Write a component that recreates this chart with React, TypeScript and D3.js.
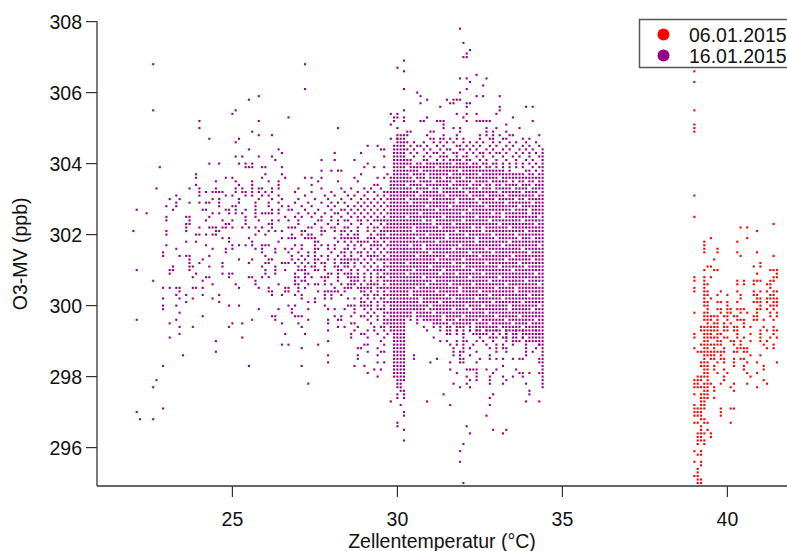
import React from "react";
import * as d3 from "d3";

const W = 787;
const H = 551;

const xTicks = [25, 30, 35, 40];
const yTicks = [296, 298, 300, 302, 304, 306, 308];
const seriesNames = ["06.01.2015", "16.01.2015"];
const seriesColors = ["#ff0000", "#990088"];
const xTitle = "Zellentemperatur (°C)";
const yTitle = "O3-MV (ppb)";

// 16.01.2015 — solid vertical runs of readings on the 0.1 grid: [temperature, lowest O3, highest O3]
const purpleRuns: [number, number, number][] = [
  [29.8, 299.3, 303.6], [29.9, 298.0, 304.5], [30.0, 297.8, 304.8], [30.1, 297.8, 304.7],
  [30.2, 297.9, 304.6], [30.3, 299.6, 304.0], [30.4, 299.5, 304.1], [30.5, 299.7, 303.9],
  [30.6, 299.5, 304.0], [30.7, 299.6, 304.0], [30.8, 299.4, 303.9], [30.9, 299.6, 304.1],
  [31.0, 299.5, 304.0], [31.1, 299.4, 304.0], [31.2, 299.5, 304.1], [31.3, 299.3, 304.0],
  [31.4, 299.5, 304.2], [31.5, 299.4, 304.0], [31.6, 299.3, 304.1], [31.7, 299.5, 303.9],
  [31.8, 299.3, 304.2], [31.9, 299.4, 304.1], [32.0, 299.2, 304.0], [32.1, 299.4, 304.2],
  [32.2, 299.3, 303.9], [32.3, 299.5, 304.0], [32.4, 299.2, 303.8], [32.5, 299.3, 303.9],
  [32.6, 299.4, 303.8], [32.7, 299.2, 303.7], [32.8, 299.3, 303.9], [32.9, 299.1, 303.8],
  [33.0, 299.3, 303.7], [33.1, 299.2, 303.8], [33.2, 299.4, 303.6], [33.3, 299.1, 303.7],
  [33.4, 299.3, 303.6], [33.5, 299.2, 303.7], [33.6, 299.0, 303.6], [33.7, 299.3, 303.7],
  [33.8, 299.1, 303.6], [33.9, 299.2, 303.6], [34.0, 299.0, 303.6], [34.1, 299.2, 303.6],
  [34.2, 299.1, 303.6], [34.3, 298.9, 303.6], [34.4, 297.7, 304.4],
];

// 16.01.2015 — empty cells inside those runs: [temperature, missing O3 values]
const purpleHoles: [number, number[]][] = [
  [30.3, [299.6, 300.9, 301.2, 302.5, 303.0, 303.4, 303.9]],
  [30.4, [299.5, 300.3, 300.4, 301.7, 302.9, 303.7]],
  [30.5, [299.7, 299.8, 301.0, 302.1, 302.2, 303.3, 303.6]],
  [30.6, [300.5, 301.4, 301.9, 303.1, 303.5]],
  [30.7, [299.6, 300.1, 300.2, 302.6, 303.2, 303.8]],
  [30.8, [299.5, 300.8, 301.6, 301.7, 302.4, 303.4]],
  [30.9, [299.9, 300.6, 302.0, 302.8, 303.6, 303.7]],
  [31.0, [299.5, 300.0, 301.1, 301.5, 303.0, 303.3]],
  [31.1, [299.8, 300.7, 302.3, 302.4, 303.5]],
  [31.2, [299.4, 300.4, 301.3, 301.8, 302.7, 303.9]],
  [31.3, [300.1, 300.9, 302.2, 303.2, 303.3]],
  [31.4, [299.6, 299.7, 301.0, 302.5, 303.6]],
  [31.5, [300.3, 301.4, 301.9, 302.0, 303.1]],
  [31.6, [299.5, 300.6, 302.8, 303.4, 303.7]],
  [31.7, [299.9, 300.2, 301.2, 301.6, 302.3, 303.5]],
  [31.8, [299.6, 300.9, 302.1, 302.9, 303.0]],
  [31.9, [300.4, 300.5, 301.7, 303.3, 303.8]],
  [32.0, [299.7, 301.1, 301.3, 302.4, 302.6, 303.6]],
  [32.1, [299.4, 300.0, 302.0, 303.2]],
  [32.2, [299.9, 300.8, 301.5, 302.7, 303.1, 303.4]],
  [32.3, [299.5, 300.6, 301.0, 302.2, 303.5]],
  [32.4, [300.2, 301.8, 301.9, 302.5, 303.0]],
  [32.5, [299.6, 300.4, 301.4, 302.9, 303.3, 303.7]],
  [32.6, [300.0, 300.9, 302.1, 302.2, 303.4]],
  [32.7, [299.8, 301.2, 301.6, 302.8, 303.1]],
  [32.8, [299.5, 300.3, 300.7, 302.4, 303.5]],
  [32.9, [300.1, 301.5, 302.0, 302.6, 303.3, 303.4]],
  [33.0, [299.7, 300.5, 301.9, 303.0]],
  [33.1, [299.4, 300.8, 301.1, 302.3, 303.2, 303.6]],
  [33.2, [300.2, 301.7, 302.5, 302.6, 303.4]],
  [33.3, [299.6, 300.6, 301.3, 302.9, 303.1]],
  [33.4, [299.9, 300.0, 301.8, 302.2, 303.5]],
  [33.5, [299.5, 301.0, 301.4, 302.7, 303.3]],
  [33.6, [300.4, 300.5, 302.0, 303.0, 303.5]],
  [33.7, [299.7, 301.2, 301.9, 302.8, 303.4]],
  [33.8, [299.4, 300.1, 301.6, 302.4, 303.2]],
  [33.9, [300.7, 301.1, 302.1, 303.0, 303.5]],
  [34.0, [299.5, 300.3, 301.5, 302.6, 302.7, 303.3]],
  [34.1, [299.9, 301.3, 301.9, 302.9, 303.4]],
  [34.2, [299.6, 300.9, 302.3, 303.1, 303.5]],
  [34.3, [300.0, 300.6, 301.7, 302.5, 303.2]],
];

// 16.01.2015 — scattered readings: [O3 value, temperatures at which it occurs]
const purpleRows: [number, number[]][] = [
  [307.8, [31.9]], [307.4, [32.0]], [307.2, [32.2]], [307.1, [32.1]], [307.0, [32.0, 32.1]],
  [306.9, [30.2]], [306.8, [22.6, 27.2]], [306.7, [30.0]], [306.6, [30.2]], [306.5, [32.4]],
  [306.4, [31.9, 32.1, 32.7]], [306.3, [32.2]], [306.2, [32.6]], [306.1, [27.2, 30.2, 32.1]],
  [306.0, [30.6, 31.9]], [305.9, [25.8, 30.7, 32.4, 32.6, 33.1]],
  [305.8, [25.5, 30.9, 31.5, 31.7, 31.8, 31.9]], [305.7, [30.7, 31.6, 31.7, 32.1, 32.2]],
  [305.6, [31.3, 32.1, 33.1, 33.9, 34.1]], [305.5, [22.6, 25.1, 30.2, 33.1]],
  [305.4, [25.0, 29.8, 30.0, 31.8, 32.1, 32.4, 33.0]],
  [305.3, [26.7, 29.9, 30.0, 30.2, 30.9, 32.0, 33.5]],
  [305.2, [24.0, 25.8, 29.9, 30.2, 30.7, 30.8, 31.2, 31.3, 31.4, 32.1, 32.4, 32.5, 32.6, 32.7, 32.8, 34.1]],
  [305.1, [29.8, 31.4, 33.3]],
  [305.0, [24.0, 28.2, 30.0, 31.4, 31.7, 31.9, 32.7, 33.0, 33.7]],
  [304.9, [25.6, 30.3, 30.4, 31.0, 31.1, 31.9, 32.7, 32.9, 33.3]],
  [304.8, [25.8, 26.2, 30.1, 30.2, 30.3, 30.9, 31.4, 31.8, 32.5, 32.7, 32.9, 33.1, 33.4, 33.5, 34.3]],
  [304.7, [24.3, 25.2, 29.8, 30.0, 30.2, 31.0, 31.1, 31.3, 31.4, 31.6, 31.8, 32.0, 32.5, 32.8, 32.9, 33.2, 33.3, 33.8, 34.0]],
  [304.6, [25.1, 30.3, 30.5, 30.8, 31.1, 31.3, 31.5, 31.7, 32.0, 32.2, 32.4, 32.6, 32.9, 33.1, 33.4, 33.6, 33.9, 34.2]],
  [304.5, [29.1, 29.4, 30.4, 30.6, 30.7, 30.9, 31.2, 31.4, 31.8, 31.9, 32.1, 32.3, 32.5, 32.8, 33.0, 33.3, 33.5, 33.8, 34.0, 34.3]],
  [304.4, [25.5, 26.4, 29.5, 29.6, 30.3, 30.5, 30.8, 31.0, 31.3, 31.5, 31.6, 31.9, 32.0, 32.2, 32.4, 32.7, 32.9, 33.2, 33.4, 33.7, 33.9, 34.1]],
  [304.3, [26.5, 28.1, 28.9, 30.4, 30.6, 30.9, 31.1, 31.2, 31.4, 31.7, 31.8, 32.1, 32.3, 32.5, 32.6, 32.8, 33.0, 33.1, 33.3, 33.6, 33.8, 34.0, 34.2]],
  [304.2, [25.1, 25.3, 25.8, 26.2, 29.6, 30.5, 30.8, 31.0, 31.3, 31.5, 32.0, 32.4, 32.6, 32.9, 33.2, 33.5, 33.7, 34.0, 34.3]],
  [304.1, [26.3, 27.7, 28.1, 28.7, 30.3, 30.8, 31.7, 32.2, 32.5, 32.7, 33.0, 33.3, 33.6, 33.9, 34.1]],
  [304.0, [24.3, 24.6, 25.2, 25.4, 25.6, 29.1, 32.4, 32.6, 32.7, 32.9, 33.0, 33.2, 33.4, 33.6, 33.8, 34.0, 34.2]],
  [303.9, [22.8, 25.4, 25.5, 25.6, 25.9, 26.0, 26.5, 29.0, 29.3, 29.6, 32.4, 32.7, 33.0, 33.2, 33.4, 33.6, 33.8, 34.1, 34.3]],
  [303.8, [27.7, 28.0, 28.2, 28.3, 32.7, 33.0, 33.2, 33.4, 33.9, 34.0, 34.2]],
  [303.7, [23.9, 26.0, 26.5, 28.9, 29.7, 33.2, 33.4, 33.6, 33.8, 34.0, 34.1, 34.3]],
  [303.6, [23.9, 24.8, 25.0, 25.9, 26.6, 27.2, 27.4, 27.7, 28.7, 29.4, 29.6]],
  [303.5, [24.5, 25.1, 25.6, 26.1, 26.4, 27.6, 28.2, 28.8]],
  [303.4, [23.9, 25.2, 25.6, 26.4, 27.4, 29.3, 29.4]],
  [303.3, [22.7, 23.7, 24.0, 24.5, 25.1, 25.3, 25.6, 25.8, 25.9, 26.2, 26.4, 27.0, 27.7, 28.3, 28.6, 29.0, 29.2, 29.5]],
  [303.2, [24.0, 24.2, 24.4, 24.5, 24.6, 24.7, 25.1, 25.3, 25.4, 25.6, 25.8, 26.0, 26.2, 26.9, 27.4, 28.0, 28.4, 28.8, 29.1, 29.3, 29.6, 29.7]],
  [303.1, [23.3, 24.0, 24.8, 25.0, 25.4, 25.6, 25.9, 26.1, 26.4, 27.2, 27.8, 28.1, 28.5, 28.7, 29.0, 29.4, 29.6]],
  [303.0, [23.1, 23.4, 24.4, 24.6, 25.2, 25.8, 26.2, 26.5, 27.0, 27.5, 27.9, 28.3, 28.6, 28.9, 29.1, 29.3, 29.5, 29.7]],
  [302.9, [23.3, 23.7, 24.0, 24.2, 24.3, 24.6, 25.2, 25.7, 26.1, 26.4, 26.9, 27.3, 27.7, 28.0, 28.2, 28.4, 28.8, 29.0, 29.2, 29.4, 29.6]],
  [302.8, [23.0, 23.3, 24.6, 25.0, 25.1, 25.7, 26.1, 26.5, 26.7, 27.1, 27.4, 27.9, 28.1, 28.5, 28.7, 28.9, 29.1, 29.3, 29.5, 29.7]],
  [302.7, [22.1, 23.2, 24.1, 24.2, 24.8, 24.9, 25.1, 25.4, 25.7, 26.2, 26.4, 26.7, 26.8, 27.2, 27.6, 28.0, 28.3, 28.4, 28.6, 28.8, 29.0, 29.2, 29.4, 29.6]],
  [302.6, [22.4, 24.4, 24.6, 24.9, 25.1, 25.3, 25.7, 25.9, 26.0, 26.1, 26.2, 26.4, 27.0, 27.3, 27.5, 27.8, 28.1, 28.2, 28.5, 28.7, 28.9, 29.1, 29.3, 29.5, 29.7]],
  [302.5, [23.0, 23.6, 23.7, 24.3, 25.4, 25.7, 26.6, 26.9, 27.1, 27.4, 27.7, 28.0, 28.3, 28.6, 28.8, 29.0, 29.2, 29.4, 29.6]],
  [302.4, [23.0, 23.7, 24.2, 24.7, 25.0, 25.4, 25.8, 26.2, 26.4, 26.7, 27.0, 27.6, 27.7, 28.0, 28.2, 28.4, 28.5, 28.8, 28.9, 29.1, 29.3, 29.4, 29.5, 29.6, 29.7]],
  [302.3, [23.6, 23.7, 24.8, 24.9, 25.4, 26.1, 26.2, 27.0, 27.5, 27.9, 28.2, 28.6, 28.9, 29.2, 29.5, 29.7]],
  [302.2, [23.6, 24.0, 24.3, 24.4, 24.5, 24.7, 24.8, 25.0, 25.3, 25.5, 25.7, 25.9, 26.2, 26.7, 26.8, 26.9, 27.3, 27.4, 27.7, 28.0, 28.1, 28.4, 28.5, 28.8, 29.1, 29.3, 29.4, 29.6, 29.7]],
  [302.1, [22.0, 23.0, 23.6, 24.5, 24.6, 25.8, 26.1, 26.3, 26.5, 27.1, 27.2, 27.7, 27.8, 28.1, 28.3, 28.4, 28.6, 28.8, 29.1, 29.3, 29.5, 29.6, 29.7]],
  [302.0, [23.0, 23.9, 24.0, 24.2, 24.4, 24.5, 25.7, 26.0, 26.8, 27.1, 27.3, 27.4, 27.7, 28.3, 28.5, 28.7, 28.8, 29.2, 29.4, 29.5, 29.6]],
  [301.9, [24.7, 24.9, 25.5, 26.5, 26.7, 26.8, 26.9, 27.2, 27.3, 27.4, 27.5, 28.1, 28.3, 28.4, 28.5, 28.6, 28.7, 28.8, 29.1, 29.2, 29.3, 29.5, 29.6, 29.7]],
  [301.8, [23.6, 23.9, 24.9, 25.6, 26.4, 27.5, 27.6, 28.2, 28.4, 28.6, 28.8, 28.9, 29.0, 29.1, 29.3, 29.4, 29.6]],
  [301.7, [23.0, 24.2, 25.0, 25.2, 25.4, 25.6, 25.9, 26.0, 26.1, 26.9, 27.1, 27.5, 27.7, 27.9, 28.1, 28.5, 28.7, 28.9, 29.2, 29.3, 29.4, 29.5, 29.7]],
  [301.6, [23.3, 24.4, 24.8, 25.0, 25.7, 25.9, 26.3, 26.6, 26.8, 27.1, 27.5, 27.6, 27.9, 28.1, 28.4, 28.5, 28.7, 29.0, 29.2, 29.4, 29.6]],
  [301.5, [22.9, 24.8, 25.9, 26.3, 26.7, 27.0, 27.3, 27.5, 28.0, 28.3, 28.4, 28.6, 28.8, 28.9, 29.1, 29.3, 29.5, 29.7]],
  [301.4, [22.9, 23.4, 23.6, 23.7, 24.3, 26.0, 26.8, 27.1, 27.3, 27.5, 27.7, 27.9, 28.2, 28.4, 28.6, 28.9, 29.1, 29.2, 29.3, 29.4, 29.6]],
  [301.3, [23.7, 24.1, 25.2, 25.6, 26.1, 26.2, 26.8, 27.0, 27.2, 27.5, 27.6, 27.9, 28.1, 28.3, 28.4, 28.5, 28.6, 28.7, 28.8, 29.0, 29.2, 29.4, 29.5, 29.6, 29.7]],
  [301.2, [23.7, 24.0, 24.7, 25.5, 26.0, 26.1, 26.5, 26.6, 26.7, 26.9, 27.1, 27.3, 27.5, 27.7, 27.8, 28.1, 28.3, 28.4, 28.5, 28.7, 28.9, 29.1, 29.3, 29.6]],
  [301.1, [23.2, 23.7, 23.8, 24.3, 24.7, 25.9, 26.3, 27.0, 27.2, 27.4, 27.5, 27.8, 28.1, 28.2, 28.4, 28.5, 28.7, 29.0, 29.2, 29.4, 29.6, 29.7]],
  [301.0, [22.1, 23.1, 23.2, 23.7, 26.0, 26.3, 26.6, 27.0, 27.1, 27.2, 27.5, 27.6, 27.8, 28.2, 28.3, 28.6, 28.8, 29.1, 29.3, 29.4, 29.5, 29.6]],
  [300.9, [23.1, 23.9, 24.7, 24.9, 25.0, 26.0, 26.3, 26.9, 27.2, 27.3, 27.9, 28.0, 28.2, 28.4, 28.5, 28.6, 28.8, 29.0, 29.2, 29.4, 29.6, 29.7]],
  [300.8, [23.8, 24.2, 24.3, 24.9, 25.5, 25.6, 25.9, 26.1, 26.9, 27.0, 27.2, 27.4, 27.7, 27.8, 27.9, 28.2, 28.5, 28.6, 28.7, 28.8, 29.0, 29.2, 29.4, 29.5, 29.6]],
  [300.7, [22.6, 24.1, 25.7, 26.9, 27.1, 27.2, 27.8, 28.2, 28.6, 28.7, 28.8, 29.0, 29.2, 29.4, 29.6, 29.7]],
  [300.6, [24.4, 25.1, 25.7, 26.4, 26.9, 27.0, 27.3, 27.5, 27.6, 27.8, 28.0, 28.3, 28.5, 28.6, 28.7, 28.9, 29.1, 29.2, 29.3, 29.4, 29.6]],
  [300.5, [22.9, 23.1, 23.3, 23.4, 23.8, 23.9, 24.1, 25.2, 25.8, 26.1, 26.6, 26.7, 27.0, 27.2, 28.1, 28.4, 28.5, 28.6, 28.8, 28.9, 29.0, 29.1, 29.2, 29.4, 29.5, 29.6, 29.7]],
  [300.4, [23.4, 26.1, 26.2, 26.6, 26.7, 27.0, 27.6, 27.8, 27.9, 28.0, 28.1, 28.2, 28.4, 28.9, 29.0, 29.2, 29.4, 29.6]],
  [300.3, [23.3, 23.6, 24.1, 24.6, 26.2, 26.5, 26.9, 27.1, 27.8, 28.0, 28.3, 29.0, 29.1, 29.3, 29.4, 29.6, 29.7]],
  [300.2, [22.9, 23.4, 23.8, 24.4, 27.1, 27.5, 27.8, 28.0, 28.5, 28.7, 28.9, 29.1, 29.3, 29.5, 29.6]],
  [300.1, [23.6, 24.6, 27.3, 27.5, 28.9, 29.0, 29.2, 29.4, 29.6, 29.7]],
  [300.0, [22.9, 23.3, 24.9, 25.2, 26.7, 26.9, 27.8, 28.5, 28.6, 28.7, 28.9, 29.0, 29.1, 29.2, 29.4, 29.6]],
  [299.9, [22.9, 25.8, 26.4, 26.8, 27.3, 27.9, 28.1, 28.4, 28.7, 29.0, 29.2, 29.4, 29.5, 29.6]],
  [299.8, [23.4, 26.8, 28.7, 29.1, 29.3, 29.6, 29.7]],
  [299.7, [24.1, 26.2, 26.3, 26.9, 27.0, 27.1, 28.1, 28.3, 28.6, 28.9, 29.0, 29.2, 29.4, 29.6]],
  [299.6, [22.1, 23.3, 25.6, 26.3, 27.3, 27.9, 28.2, 28.3, 29.1, 29.4, 29.6, 29.7]],
  [299.5, [23.1, 25.0, 25.3, 26.5, 27.0, 27.9, 28.6, 28.7, 29.2, 29.6, 29.7]],
  [299.4, [23.4, 23.8, 24.9, 27.1, 28.2, 28.4, 28.8, 29.3, 29.5, 29.6]],
  [299.3, [27.9, 28.7, 29.1, 29.3, 29.6, 30.9, 31.5, 31.8, 32.2, 32.4, 32.7, 33.0, 33.3, 33.6, 33.8, 34.2]],
  [299.2, [23.4, 26.6, 27.2, 28.6, 28.9, 29.0, 29.4, 29.7, 31.5, 31.6, 31.8, 32.0, 32.3, 32.5, 32.6, 32.9, 33.3, 33.6, 34.3]],
  [299.1, [23.1, 25.3, 28.6, 29.1, 29.6, 31.1, 32.0, 32.5, 32.8, 33.0, 33.2, 33.3, 33.5, 33.8, 34.1]],
  [299.0, [24.5, 27.9, 29.5, 31.3, 31.5, 31.8, 32.0, 32.1, 32.4, 32.6, 32.9, 33.3, 33.5, 33.7, 33.9, 34.1, 34.2]],
  [298.9, [26.5, 26.7, 27.6, 29.0, 29.1, 29.6, 31.6, 31.8, 32.0, 32.3, 32.7, 33.0, 33.2, 33.5, 33.9, 34.3]],
  [298.8, [27.1, 28.8, 28.9, 29.4, 31.7, 32.0, 32.2, 32.8, 33.0, 33.2, 33.3, 33.9, 34.2]],
  [298.7, [24.5, 29.1, 29.5, 29.6, 31.7, 31.9, 32.0, 32.4, 33.0, 33.3, 33.9, 34.1]],
  [298.6, [23.5, 27.9, 28.8, 29.4, 30.5, 31.7, 31.9, 32.2, 32.8, 33.9]],
  [298.5, [28.8, 30.5, 31.2, 31.9, 32.0, 32.5, 32.8, 33.0, 33.2, 33.5, 33.7, 33.8, 34.3]],
  [298.4, [27.9, 29.4, 29.6, 31.0, 31.6, 31.9, 32.0, 32.4, 34.3]],
  [298.3, [22.9, 25.5, 27.1, 28.7, 29.0, 33.2]],
  [298.2, [29.3, 29.5, 31.6, 32.1, 32.2, 32.3, 32.4, 32.7, 33.0, 33.6]],
  [298.1, [29.1, 31.8, 32.4, 32.9, 33.7, 33.8, 34.0, 34.3]],
  [298.0, [29.4, 32.1, 32.4, 32.8, 33.2, 33.5, 33.8]],
  [297.9, [22.7, 32.2, 32.4, 32.8, 33.3]],
  [297.8, [27.3, 31.7, 32.1, 32.8, 33.2, 33.9]],
  [297.7, [22.6, 30.0, 30.1, 31.9, 32.2]],
  [297.6, [30.1, 30.2, 34.0]],
  [297.5, [30.0, 30.2, 31.4, 32.9, 34.0]],
  [297.4, [30.0, 30.2, 32.8]],
  [297.3, [29.8, 30.9, 33.9, 34.3]],
  [297.2, [30.1, 31.6, 32.8]],
  [297.1, [22.9]],
  [297.0, [22.1, 30.2]],
  [296.9, [30.2, 32.7]],
  [296.8, [22.2, 22.6]],
  [296.7, [30.0]],
  [296.6, [30.0, 32.1]],
  [296.5, [30.2, 32.9, 33.3]],
  [296.4, [32.2, 33.2]],
  [296.2, [30.2]],
  [296.1, [32.0]],
  [295.9, [31.9]],
  [295.6, [31.9]],
  [295.0, [32.0]],
];

// 06.01.2015 — scattered readings: [O3 value, temperatures at which it occurs]
const redRows: [number, number[]][] = [
  [306.6, [39.0]], [306.3, [39.0]], [305.5, [39.0]], [305.1, [39.0]], [305.0, [39.0]],
  [304.9, [39.0]], [303.1, [39.0]], [302.5, [39.0]], [302.3, [41.4]], [302.2, [40.4, 40.6]],
  [302.1, [40.9]], [301.9, [39.5, 40.6]], [301.8, [39.3, 40.3]], [301.7, [39.3]],
  [301.6, [39.3, 39.7]], [301.5, [39.3, 39.7, 40.3, 40.9]], [301.4, [40.4, 41.4]],
  [301.3, [39.6]], [301.2, [41.0]], [301.1, [39.4, 39.5, 40.8, 41.0]],
  [301.0, [39.3, 39.6, 39.7, 41.3, 41.4, 41.5]], [300.9, [40.9, 41.5]],
  [300.8, [39.0, 39.3, 39.5, 41.4, 41.5]],
  [300.7, [39.0, 39.3, 40.3, 40.5, 40.8, 40.9, 41.0, 41.3, 41.4]],
  [300.6, [39.3, 39.4, 40.3, 40.5, 40.8, 41.2, 41.3]],
  [300.5, [39.0, 39.3, 41.3]],
  [300.4, [39.0, 39.3, 39.4, 39.8, 40.3, 40.8, 41.0, 41.2, 41.4, 41.5]],
  [300.3, [39.3, 39.4, 39.7, 40.0, 40.4, 40.8, 40.9, 41.3, 41.4]],
  [300.2, [39.3, 39.5, 40.4, 40.9, 41.0, 41.2, 41.3, 41.4, 41.5]],
  [300.1, [39.3, 39.4, 39.7, 39.8, 40.0, 40.3, 40.8, 40.9, 41.0, 41.2, 41.4, 41.5]],
  [300.0, [39.3, 39.4, 40.0, 41.0, 41.3, 41.4, 41.5]],
  [299.9, [39.4, 39.7, 39.8, 40.0, 40.1, 40.3, 40.4, 40.5, 40.9, 41.0, 41.2, 41.4]],
  [299.8, [39.0, 39.3, 39.4, 39.8, 40.0, 40.1, 40.4, 40.6, 40.9, 41.3, 41.5]],
  [299.7, [39.3, 39.4, 39.5, 39.6, 39.7, 39.9, 40.0, 40.2, 40.3, 40.8, 40.9, 41.3, 41.5]],
  [299.6, [39.3, 39.4, 39.5, 39.7, 40.0, 40.3, 40.4, 40.5, 40.8, 40.9, 41.1, 41.4]],
  [299.5, [39.4, 39.6, 39.7, 39.9, 40.1, 40.5]],
  [299.4, [39.2, 39.3, 39.4, 39.5, 39.6, 39.7, 39.9, 40.0, 40.2, 40.3, 40.5, 40.7, 41.1, 41.4]],
  [299.3, [39.2, 39.3, 39.4, 39.5, 39.6, 39.7, 39.9, 40.0, 40.2, 40.3, 41.0, 41.2, 41.4, 41.5]],
  [299.2, [39.0, 39.3, 39.4, 39.5, 39.7, 39.8, 40.3, 40.7, 41.0, 41.4]],
  [299.1, [39.0, 39.3, 39.4, 39.5, 39.6, 39.7, 39.9, 40.0, 40.3, 40.5, 41.0, 41.3, 41.5]],
  [299.0, [39.3, 39.4, 39.7, 39.8, 40.1, 40.2, 40.4, 40.7, 41.0, 41.2]],
  [298.9, [39.2, 39.3, 39.4, 39.5, 39.6, 39.7, 39.8, 40.2, 40.4, 41.1, 41.4]],
  [298.8, [39.0, 39.3, 39.4, 39.6, 39.9, 40.3, 40.4, 40.5, 40.6, 41.2, 41.4]],
  [298.7, [39.1, 39.2, 39.3, 39.4, 39.5, 39.6, 39.7, 39.8, 39.9, 40.2, 40.3, 40.5, 40.6]],
  [298.6, [39.3, 39.4, 39.5, 39.6, 39.8, 40.7, 41.0]],
  [298.5, [39.3, 39.5, 39.6, 39.8, 39.9, 40.2, 40.4, 40.5]],
  [298.4, [39.2, 39.3, 39.4, 39.7, 39.9, 40.2, 40.6, 40.9, 41.5]],
  [298.3, [39.2, 39.3, 39.4, 39.6, 40.2, 40.5, 41.1]],
  [298.2, [39.3, 39.4, 39.6, 39.9, 40.5, 41.1]],
  [298.1, [39.3, 39.4, 39.7, 40.0, 40.6, 40.9]],
  [298.0, [39.1, 39.2, 39.3, 39.4, 39.9, 40.7]],
  [297.9, [39.0, 39.1, 39.2, 39.4, 39.9, 41.1]],
  [297.8, [39.0, 39.1, 39.3, 39.4, 39.5, 39.8, 40.2, 40.6, 41.2]],
  [297.7, [39.0, 39.1, 39.2, 39.3, 39.4, 39.6, 40.1, 40.9]],
  [297.6, [39.3, 39.4, 39.6, 40.2]],
  [297.5, [39.0, 39.2, 39.3, 39.4]],
  [297.4, [39.2, 39.3, 39.4, 39.6]],
  [297.3, [39.2, 39.3]],
  [297.2, [39.0, 39.2, 39.3]],
  [297.1, [39.0, 39.1, 39.2, 39.3, 39.8, 40.1, 40.2]],
  [297.0, [39.0, 39.1, 39.2, 39.8]],
  [296.9, [39.0, 39.1, 39.2, 39.8]],
  [296.8, [39.2, 39.3]],
  [296.7, [39.0, 39.1, 39.3, 39.4, 40.1]],
  [296.6, [39.2]],
  [296.5, [39.2, 39.4]],
  [296.4, [39.1, 39.2, 39.3, 39.5]],
  [296.3, [39.1, 39.2, 39.5]],
  [296.2, [39.1, 39.2, 39.3]],
  [296.1, [39.1, 39.3]],
  [295.9, [39.0, 39.2]],
  [295.8, [39.1, 39.2]],
  [295.6, [39.0, 39.2]],
  [295.5, [39.2]],
  [295.4, [39.1]],
  [295.3, [39.1]],
  [295.2, [39.0, 39.1]],
  [295.1, [39.1, 39.2]],
  [295.0, [39.1, 39.2]],
];

type Pt = { t: number; v: number };

function fromRows(rows: [number, number[]][]): Pt[] {
  const out: Pt[] = [];
  rows.forEach(([v, ts]) => ts.forEach((t) => out.push({ t, v })));
  return out;
}

function fromRuns(runs: [number, number, number][], holes: [number, number[]][]): Pt[] {
  const holeSet = new Set<string>();
  holes.forEach(([t, vs]) => vs.forEach((v) => holeSet.add(Math.round(t * 10) + ":" + Math.round(v * 10))));
  const out: Pt[] = [];
  runs.forEach(([t, lo, hi]) => {
    const a = Math.round(lo * 10);
    const b = Math.round(hi * 10);
    const tk = Math.round(t * 10);
    for (let k = a; k <= b; k++) {
      if (!holeSet.has(tk + ":" + k)) out.push({ t, v: k / 10 });
    }
  });
  return out;
}

export default function App() {
  React.useEffect(() => {
    document.body.style.margin = "0";
  }, []);

  const x = d3.scaleLinear().domain([25, 40]).range([232.4, 727.4]);
  const y = d3.scaleLinear().domain([296, 308]).range([447.6, 21.6]);

  const left = 97;
  const right = W;
  const bottom = 486;
  const top = y(308);

  const purple = React.useMemo(() => [...fromRuns(purpleRuns, purpleHoles), ...fromRows(purpleRows)], []);
  const red = React.useMemo(() => fromRows(redRows), []);

  const font = "'Liberation Sans', Arial, Helvetica, sans-serif";
  const fs = 19.5;
  const axisColor = "#333";
  const s = 2.1;

  return (
    <svg
      width={W}
      height={H}
      style={{ position: "absolute", left: 0, top: 0, background: "#fff" }}
      fontFamily={font}
    >
      <rect x={0} y={0} width={W} height={H} fill="#fff" />
      <g>
        {red.map((p, i) => (
          <rect key={"r" + i} x={x(p.t) - s / 2} y={y(p.v) - s / 2} width={s} height={s} fill={seriesColors[0]} />
        ))}
        {purple.map((p, i) => (
          <rect key={"p" + i} x={x(p.t) - s / 2} y={y(p.v) - s / 2} width={s} height={s} fill={seriesColors[1]} />
        ))}
      </g>
      <line x1={left} x2={left} y1={top} y2={bottom} stroke={axisColor} strokeWidth={1.3} />
      <line x1={left} x2={right} y1={bottom} y2={bottom} stroke={axisColor} strokeWidth={1.3} />
      {yTicks.map((t) => (
        <g key={"yt" + t}>
          <line x1={left - 11} x2={left} y1={y(t)} y2={y(t)} stroke={axisColor} strokeWidth={1.2} />
          <text x={left - 15} y={y(t) + 7} textAnchor="end" fontSize={fs} fill="#111">
            {t}
          </text>
        </g>
      ))}
      {xTicks.map((t) => (
        <g key={"xt" + t}>
          <line x1={x(t)} x2={x(t)} y1={bottom} y2={bottom + 11} stroke={axisColor} strokeWidth={1.2} />
          <text x={x(t)} y={526} textAnchor="middle" fontSize={fs} fill="#111">
            {t}
          </text>
        </g>
      ))}
      <text x={(left + right) / 2} y={548} textAnchor="middle" fontSize={fs} fill="#111">
        {xTitle}
      </text>
      <text
        transform={`translate(27, ${(top + bottom) / 2}) rotate(-90)`}
        textAnchor="middle"
        fontSize={fs}
        fill="#111"
      >
        {yTitle}
      </text>
      <rect x={639.5} y={19.5} width={170} height={48} fill="#fff" stroke="#555" strokeWidth={1.5} />
      {seriesNames.map((n, i) => (
        <g key={n}>
          <circle cx={663.5} cy={34.5 + i * 21} r={6} fill={seriesColors[i]} />
          <text x={689} y={41.5 + i * 21} fontSize={fs} fill="#111">
            {n}
          </text>
        </g>
      ))}
    </svg>
  );
}
